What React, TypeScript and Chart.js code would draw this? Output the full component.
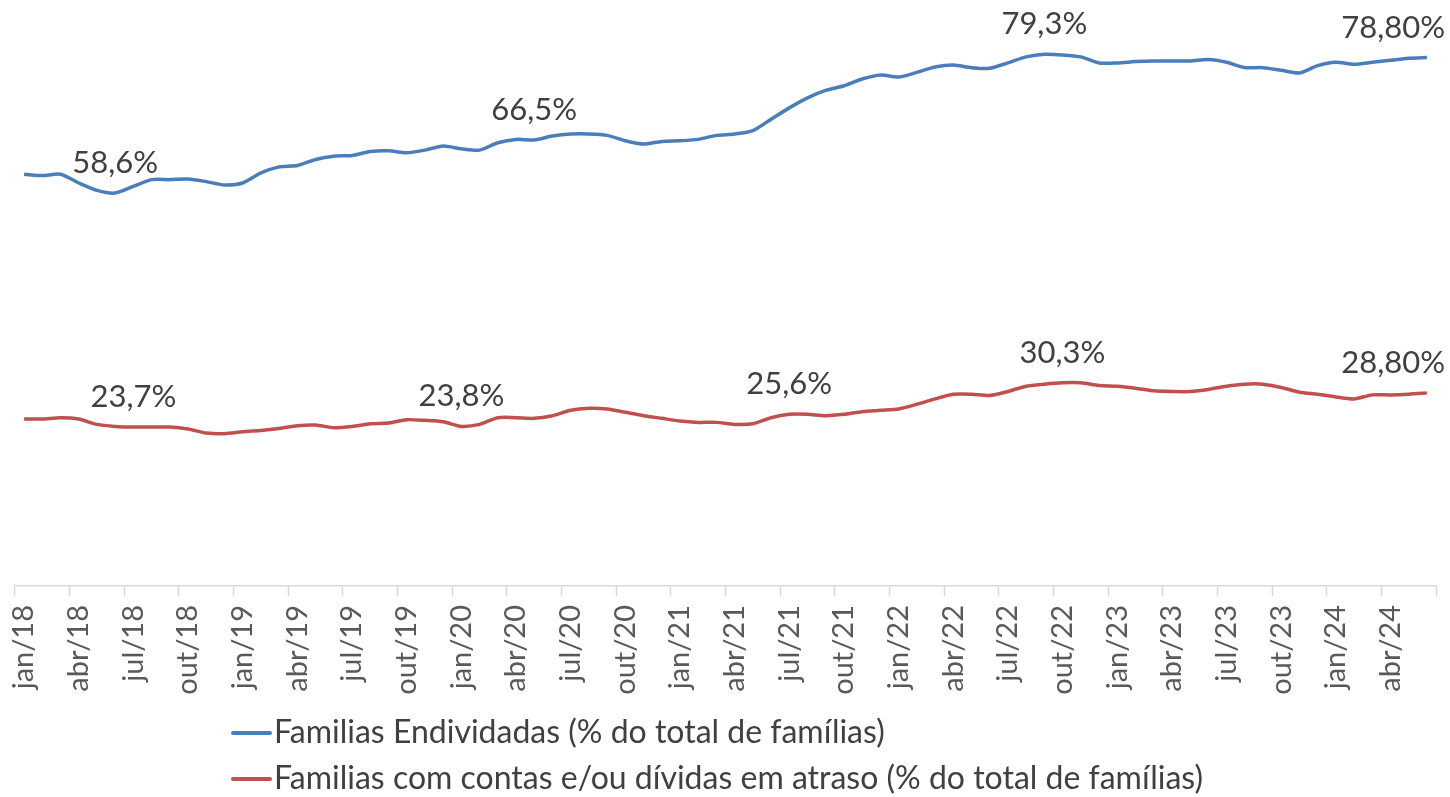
import React, { useEffect, useRef } from 'react';
import { Chart, registerables } from 'chart.js';

Chart.register(...registerables);

const categories = [
  'jan/18', 'fev/18', 'mar/18', 'abr/18', 'mai/18', 'jun/18', 'jul/18', 'ago/18', 'set/18', 'out/18', 'nov/18', 'dez/18',
  'jan/19', 'fev/19', 'mar/19', 'abr/19', 'mai/19', 'jun/19', 'jul/19', 'ago/19', 'set/19', 'out/19', 'nov/19', 'dez/19',
  'jan/20', 'fev/20', 'mar/20', 'abr/20', 'mai/20', 'jun/20', 'jul/20', 'ago/20', 'set/20', 'out/20', 'nov/20', 'dez/20',
  'jan/21', 'fev/21', 'mar/21', 'abr/21', 'mai/21', 'jun/21', 'jul/21', 'ago/21', 'set/21', 'out/21', 'nov/21', 'dez/21',
  'jan/22', 'fev/22', 'mar/22', 'abr/22', 'mai/22', 'jun/22', 'jul/22', 'ago/22', 'set/22', 'out/22', 'nov/22', 'dez/22',
  'jan/23', 'fev/23', 'mar/23', 'abr/23', 'mai/23', 'jun/23', 'jul/23', 'ago/23', 'set/23', 'out/23', 'nov/23', 'dez/23',
  'jan/24', 'fev/24', 'mar/24', 'abr/24', 'mai/24', 'jun/24',
];

const endividadas = [
  61.4, 61.2, 61.4, 60.1, 59.0, 58.6, 59.6, 60.6, 60.6, 60.7, 60.3, 59.8,
  60.1, 61.6, 62.5, 62.7, 63.6, 64.1, 64.2, 64.8, 64.9, 64.6, 65.0, 65.6,
  65.2, 65.0, 66.1, 66.6, 66.5, 67.1, 67.4, 67.4, 67.2, 66.4, 65.9, 66.3,
  66.4, 66.6, 67.2, 67.4, 67.9, 69.6, 71.3, 72.8, 73.9, 74.6, 75.6, 76.2,
  75.9, 76.6, 77.4, 77.7, 77.3, 77.2, 78.0, 78.9, 79.3, 79.2, 78.9, 78.0,
  78.0, 78.2, 78.3, 78.3, 78.3, 78.5, 78.1, 77.3, 77.3, 76.9, 76.5, 77.6,
  78.1, 77.8, 78.1, 78.4, 78.7, 78.8,
];

const atraso = [
  24.9, 24.9, 25.1, 24.9, 24.1, 23.8, 23.7, 23.7, 23.7, 23.4, 22.8, 22.7,
  23.0, 23.2, 23.5, 23.9, 24.0, 23.6, 23.8, 24.2, 24.3, 24.8, 24.7, 24.5,
  23.8, 24.1, 25.1, 25.1, 25.0, 25.4, 26.2, 26.5, 26.4, 25.9, 25.4, 25.0,
  24.6, 24.4, 24.4, 24.1, 24.2, 25.1, 25.6, 25.6, 25.4, 25.6, 26.0, 26.2,
  26.4, 27.1, 27.9, 28.6, 28.6, 28.4, 29.0, 29.8, 30.1, 30.3, 30.3, 29.9,
  29.8, 29.5, 29.1, 29.0, 29.0, 29.3, 29.8, 30.1, 30.1, 29.6, 28.9, 28.6,
  28.2, 27.9, 28.5, 28.5, 28.6, 28.8,
];

const seriesNames = [
  'Familias Endividadas (% do total de famílias)',
  'Familias com contas e/ou dívidas em atraso (% do total de famílias)',
];

const endividadasLabelIdx = [5, 28, 56, 77];
const endividadasLabelText = ['58,6%', '66,5%', '79,3%', '78,80%'];
const atrasoLabelIdx = [6, 24, 42, 57, 77];
const atrasoLabelText = ['23,7%', '23,8%', '25,6%', '30,3%', '28,80%'];

const yMin = 0;
const yMax = 85;

const FONT = 'Lato, "Open Sans", sans-serif';
const TEXT_COLOR = '#404040';
const TICK_COLOR = '#595959';
const AXIS_COLOR = '#d9d9d9';
const BLUE = '#4a7ebb';
const RED = '#c0504d';

const pointLabelsPlugin = {
  id: 'pointLabels',
  afterDatasetsDraw(chart: any) {
    const ctx = chart.ctx;
    ctx.save();
    ctx.font = `31px ${FONT}`;
    ctx.fillStyle = TEXT_COLOR;
    ctx.textAlign = 'center';
    ctx.textBaseline = 'middle';
    const sets: [number[], string[]][] = [
      [endividadasLabelIdx, endividadasLabelText],
      [atrasoLabelIdx, atrasoLabelText],
    ];
    sets.forEach(([idx, txt], d) => {
      const meta = chart.getDatasetMeta(d);
      idx.forEach((i, k) => {
        const el = meta.data[i];
        if (!el) return;
        const w = ctx.measureText(txt[k]).width;
        const x = Math.min(el.x, chart.width - 5 - w / 2);
        ctx.fillText(txt[k], x, el.y - 30);
      });
    });
    ctx.restore();
  },
};

const legendPlugin = {
  id: 'customLegend',
  afterDraw(chart: any) {
    const ctx = chart.ctx;
    ctx.save();
    ctx.font = `32px ${FONT}`;
    ctx.textAlign = 'left';
    ctx.textBaseline = 'middle';
    const rows = [733, 779];
    chart.data.datasets.forEach((ds: any, i: number) => {
      const y = rows[i];
      ctx.strokeStyle = ds.borderColor;
      ctx.lineWidth = 4;
      ctx.lineCap = 'round';
      ctx.beginPath();
      ctx.moveTo(233, y);
      ctx.lineTo(270, y);
      ctx.stroke();
      ctx.fillStyle = TEXT_COLOR;
      ctx.fillText(ds.label, 274, y);
    });
    ctx.restore();
  },
};

const tickVisible = (c: any) =>
  c.index === undefined || c.index % 3 === 0 ? AXIS_COLOR : 'rgba(0,0,0,0)';

export default function App() {
  const canvasRef = useRef<HTMLCanvasElement | null>(null);

  useEffect(() => {
    if (!canvasRef.current) return;
    const chart = new Chart(canvasRef.current, {
      type: 'line',
      data: {
        labels: categories,
        datasets: [
          {
            label: seriesNames[0],
            data: endividadas,
            borderColor: BLUE,
            backgroundColor: BLUE,
            borderWidth: 3.5,
            pointRadius: 0,
            tension: 0.25,
            fill: false,
          },
          {
            label: seriesNames[1],
            data: atraso,
            borderColor: RED,
            backgroundColor: RED,
            borderWidth: 3.5,
            pointRadius: 0,
            tension: 0.25,
            fill: false,
          },
        ],
      },
      options: {
        responsive: false,
        animation: false,
        layout: { padding: { top: 16, left: 15, right: 14, bottom: 0 } },
        plugins: {
          legend: { display: false },
          tooltip: { enabled: false },
          title: { display: false },
        },
        scales: {
          x: {
            type: 'category',
            offset: true,
            afterFit: (scale: any) => {
              scale.height = 211;
              scale.paddingLeft = 0;
              scale.paddingRight = 0;
            },
            border: { display: true, color: AXIS_COLOR, width: 1.5 },
            grid: {
              display: true,
              offset: true,
              drawOnChartArea: false,
              drawTicks: true,
              tickLength: 10,
              tickWidth: 1.5,
              color: tickVisible,
              tickColor: tickVisible,
            },
            ticks: {
              autoSkip: false,
              maxRotation: 90,
              minRotation: 90,
              padding: 9,
              color: TICK_COLOR,
              font: { family: FONT, size: 29 },
              callback: (_v: any, i: number) => (i % 3 === 0 ? categories[i] : ''),
            },
          },
          y: {
            display: false,
            min: yMin,
            max: yMax,
          },
        },
      },
      plugins: [pointLabelsPlugin, legendPlugin],
    });
    return () => chart.destroy();
  }, []);

  return (
    <div style={{ position: 'absolute', left: 0, top: 0, width: 1450, height: 797, background: '#fff' }}>
      <canvas ref={canvasRef} width={1450} height={797} style={{ display: 'block', width: 1450, height: 797 }} />
    </div>
  );
}
